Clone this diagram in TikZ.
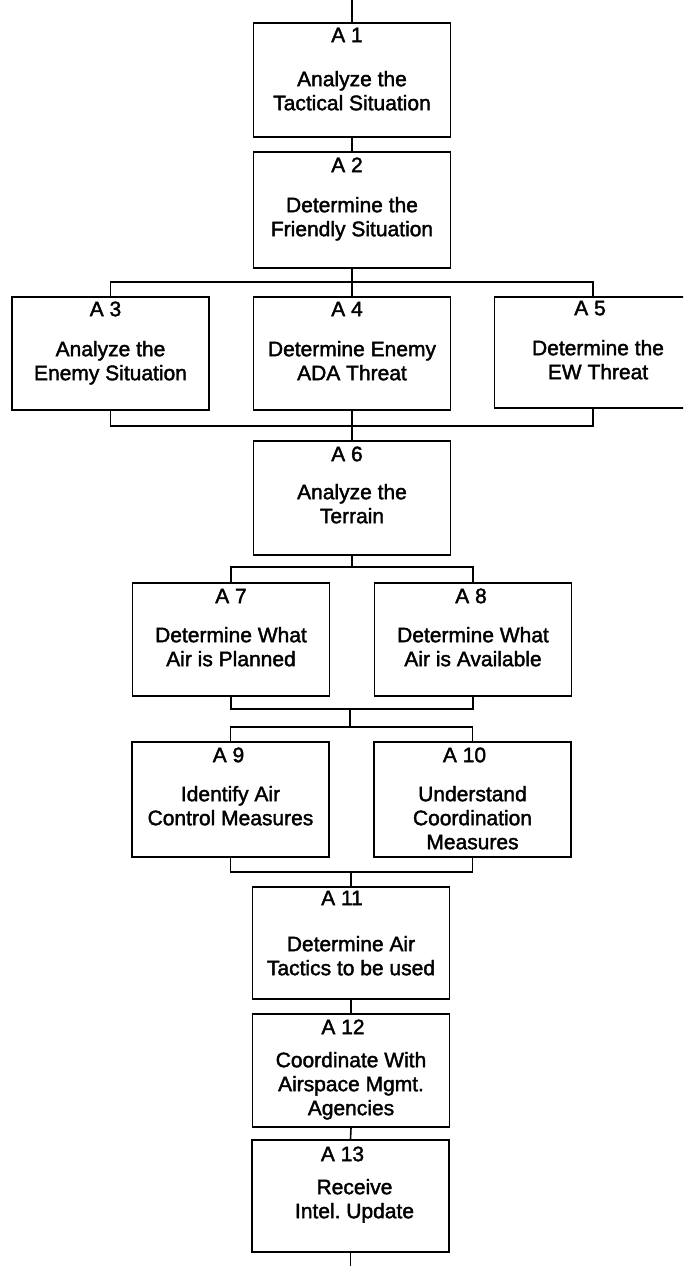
\documentclass[tikz,border=0pt]{standalone}
\usepackage{fontspec}
\setmainfont{Liberation Sans}
\newfontfamily\boxfont{Liberation Sans}[FakeBold=1.8]
\frenchspacing
\usepackage{tikz}
\usetikzlibrary{positioning,calc}

\tikzset{
  blk/.style={draw, line width=1.6pt, minimum width=197pt, minimum height=114pt, inner sep=0pt},
  ttl/.style={anchor=base, inner sep=0pt, font=\boxfont\fontsize{21}{24}\selectfont},
  txt/.style={anchor=base, align=center, inner sep=0pt, font=\boxfont\fontsize{21}{24}\selectfont},
  wire/.style={line width=1.6pt},
}

\begin{document}
\begin{tikzpicture}[x=1pt, y=-1pt]
  \useasboundingbox (0,0) rectangle (683,1266);
  \clip (0,0) rectangle (683,1266);

  \node[blk] (a1) at (352,80) {};
  \node[blk, minimum height=116pt] (a2) at (352,210) {};
  \node[blk, minimum height=113pt] (a3) at (110.5,353.5) {};
  \node[blk, minimum height=113pt] (a4) at (352,353.5) {};
  \node[blk, minimum height=111pt] (a5) at (593,352.5) {};
  \node[blk] (a6) at (352,498) {};
  \node[blk, minimum height=113pt] (a7) at (231,639.5) {};
  \node[blk, minimum height=113pt] (a8) at (473,639.5) {};
  \node[blk, minimum height=115pt] (a9) at (230.5,799.5) {};
  \node[blk, minimum height=115pt] (a10) at (472.5,799.5) {};
  \node[blk, minimum height=112pt] (a11) at (351,943) {};
  \node[blk, minimum height=113pt] (a12) at (351,1070.5) {};
  \node[blk, minimum height=112pt] (a13) at (350.5,1196) {};

  \node[ttl] (a1t) at ([xshift=-5pt,yshift=-20pt]a1.north) {A 1};
  \node[txt] (a1b) at ([yshift=-88pt]a1.north) {Analyze the\\Tactical Situation};
  \node[ttl] (a2t) at ([xshift=-5pt,yshift=-21pt]a2.north) {A 2};
  \node[txt] (a2b) at ([yshift=-85pt]a2.north) {Determine the\\Friendly Situation};
  \node[ttl] (a3t) at ([xshift=-5pt,yshift=-20pt]a3.north) {A 3};
  \node[txt] (a3b) at ([yshift=-84pt]a3.north) {Analyze the\\Enemy Situation};
  \node[ttl] (a4t) at ([xshift=-5pt,yshift=-20pt]a4.north) {A 4};
  \node[txt] (a4b) at ([yshift=-84pt]a4.north) {Determine Enemy\\ADA Threat};
  \node[ttl] (a5t) at ([xshift=-3pt,yshift=-19pt]a5.north) {A 5};
  \node[txt] (a5b) at ([xshift=5pt,yshift=-83pt]a5.north) {Determine the\\EW Threat};
  \node[ttl] (a6t) at ([xshift=-5pt,yshift=-21pt]a6.north) {A 6};
  \node[txt] (a6b) at ([yshift=-83pt]a6.north) {Analyze the\\Terrain};
  \node[ttl] (a7t) at ([yshift=-21pt]a7.north) {A 7};
  \node[txt] (a7b) at ([yshift=-84pt]a7.north) {Determine What\\Air is Planned};
  \node[ttl] (a8t) at ([xshift=-2pt,yshift=-21pt]a8.north) {A 8};
  \node[txt] (a8b) at ([yshift=-84pt]a8.north) {Determine What\\Air is Available};
  \node[ttl] (a9t) at ([xshift=-2pt,yshift=-21pt]a9.north) {A 9};
  \node[txt] (a9b) at ([yshift=-84pt]a9.north) {Identify Air\\Control Measures};
  \node[ttl] (a10t) at ([xshift=-8pt,yshift=-21pt]a10.north) {A 10};
  \node[txt] (a10b) at ([yshift=-108pt]a10.north) {Understand\\Coordination\\Measures};
  \node[ttl] (a11t) at ([xshift=-9pt,yshift=-19pt]a11.north) {A 11};
  \node[txt] (a11b) at ([yshift=-89pt]a11.north) {Determine Air\\Tactics to be used};
  \node[ttl] (a12t) at ([xshift=-8pt,yshift=-21pt]a12.north) {A 12};
  \node[txt] (a12b) at ([yshift=-102pt]a12.north) {Coordinate With\\Airspace Mgmt.\\Agencies};
  \node[ttl] (a13t) at ([xshift=-8pt,yshift=-22pt]a13.north) {A 13};
  \node[txt] (a13b) at ([xshift=4pt,yshift=-79pt]a13.north) {Receive\\Intel. Update};

  \coordinate (top) at (352,0);
  \coordinate (bot) at (350.5,1266);
  \coordinate (b1) at (352,282);
  \coordinate (b2) at (352,426);
  \coordinate (b3) at (352,567);
  \coordinate (b4) at (350,709);
  \coordinate (b5) at (350,727);
  \coordinate (b6) at (351,872);

  \draw[wire] (top) -- (a1.north);
  \draw[wire] (a1.south) -- (a2.north);
  \draw[wire] (a2.south) -- (a4.north);
  \draw[wire] (a3.north) -- (a3.north |- b1) -- (a5.north |- b1) -- (a5.north);
  \draw[wire] (a3.south) -- (a3.south |- b2) -- (a5.south |- b2) -- (a5.south);
  \draw[wire] (a4.south) -- (a6.north);
  \draw[wire] (a6.south) -- (b3);
  \draw[wire] (a7.north) -- (a7.north |- b3) -- (a8.north |- b3) -- (a8.north);
  \draw[wire] (a7.south) -- (a7.south |- b4) -- (a8.south |- b4) -- (a8.south);
  \draw[wire] (b4) -- (b5);
  \draw[wire] (a9.north) -- (a9.north |- b5) -- (a10.north |- b5) -- (a10.north);
  \draw[wire] (a9.south) -- (a9.south |- b6) -- (a10.south |- b6) -- (a10.south);
  \draw[wire] (b6) -- (a11.north);
  \draw[wire] (a11.south) -- (a12.north);
  \draw[wire] (a12.south) -- (a13.north);
  \draw[wire] (a13.south) -- (bot);
\end{tikzpicture}
\end{document}
